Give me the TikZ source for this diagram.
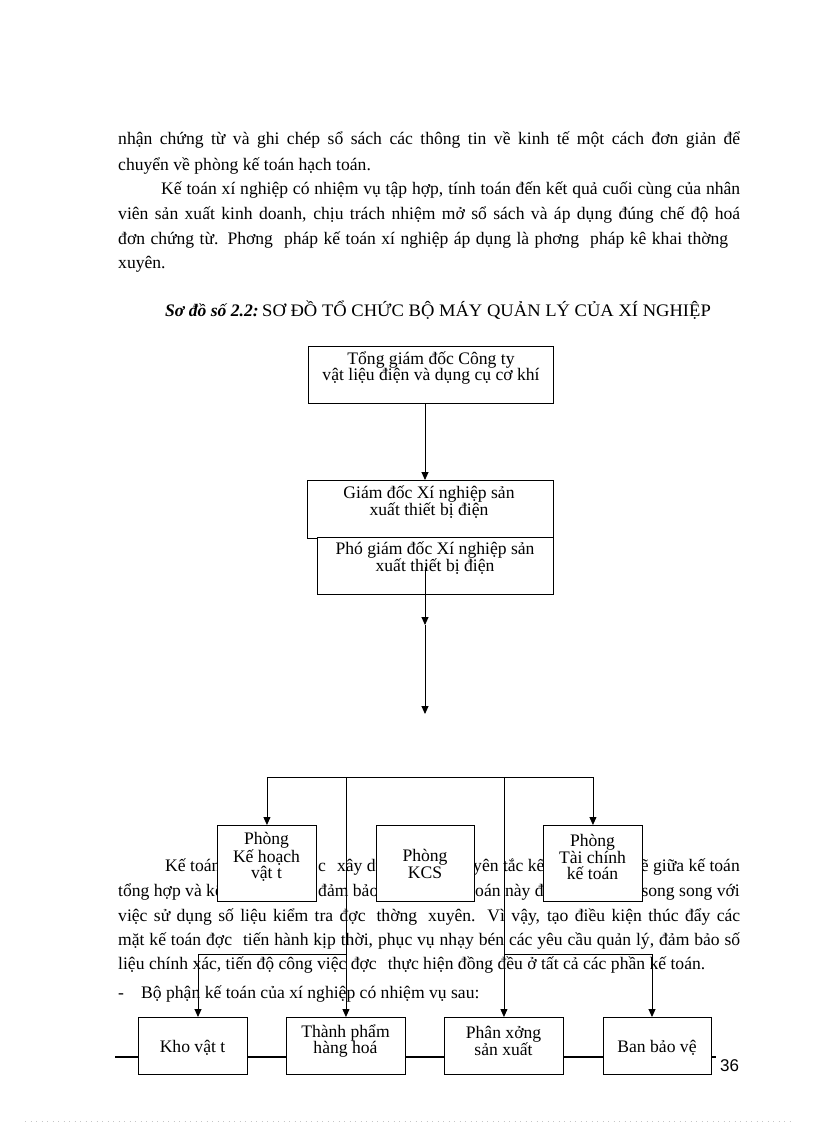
\documentclass[tikz,border=0pt]{standalone}
\usepackage{fontspec}
\setmainfont{Liberation Serif}
\newfontfamily\sansf{Liberation Sans}
\usetikzlibrary{arrows.meta}
\newcommand\bodyfont{\fontsize{17.6}{24}\selectfont}
\newcommand\boxfont{\fontsize{17.6}{16.2}\selectfont}
\newcommand\jl[2]{\hbox to #1pt{#2}}
\newcommand\gap{\hspace{11pt}}
\begin{document}
\begin{tikzpicture}[x=1pt,y=-1pt,
  txt/.style={anchor=base west, inner sep=0pt, font=\bodyfont},
  txte/.style={anchor=base east, inner sep=0pt, font=\bodyfont},
  bx/.style={draw, fill=white, line width=0.9pt, inner sep=0pt, anchor=north west},
  bt/.style={inner sep=0pt, align=center, font=\boxfont},
  conn/.style={line width=0.9pt},
  arr/.style={conn, -{Triangle[width=7pt,length=8pt]}},
]
\useasboundingbox[fill=white] (0,0) rectangle (816,1123);

% ---------- upper paragraph ----------
\node[txt] (p1) at (118,145) {\jl{622}{nhận chứng từ và ghi chép sổ sách các thông tin về kinh tế một cách đơn giản để}};
\node[txt] (p2) at (118,171) {chuyển về phòng kế toán hạch toán.};
\node[txt] (p3) at (161,195) {\jl{579}{Kế toán xí nghiệp có nhiệm vụ tập hợp, tính toán đến kết quả cuối cùng của nhân}};
\node[txt] (p4) at (118,220) {\jl{622}{viên sản xuất kinh doanh, chịu trách nhiệm mở sổ sách và áp dụng đúng chế độ hoá}};
\node[txt] (p5) at (118,244) {\jl{610}{đơn chứng từ. Phơng\gap pháp kế toán xí nghiệp áp dụng là phơng\gap pháp kê khai thờng}};
\node[txt] (p6) at (118,268) {xuyên.};

% ---------- title ----------
\node[txt] (t1) at (165,316) {\textbf{\textit{Sơ đồ số 2.2:}}};
\node[txt] (t2) at (262,316) {\scalebox{1.055}[1]{SƠ ĐỒ TỔ CHỨC BỘ MÁY QUẢN LÝ CỦA XÍ NGHIỆP}};

% ---------- lower paragraph (partly hidden by boxes) ----------
\node[txt] (qa1) at (165,871) {Kế toán};
\node[txt] (qa2) at (318,871) {c\gap xây dựng};
\node[txt] (qa3) at (473,871) {yên tắc kết};
\node[txte] (qa4) at (740,871) {chẽ giữa kế toán};
\node[txt] (qb1) at (118,896) {tổng hợp và kế toán};
\node[txt] (qb2) at (318,896) {đảm bảo};
\node[txt] (qb3) at (475,896) {oán này đợc};
\node[txte] (qb4) at (740,896) {song song với};
\node[txt] (qc) at (118,921) {\jl{622}{việc sử dụng số liệu kiểm tra đợc\gap thờng\gap xuyên. Vì vậy, tạo điều kiện thúc đẩy các}};
\node[txt] (qd) at (118,945) {\jl{622}{mặt kế toán đợc\gap tiến hành kịp thời, phục vụ nhạy bén các yêu cầu quản lý, đảm bảo số}};
\node[txt] (qe) at (118,969) {liệu chính xác, tiến độ công việc đợc\gap thực hiện đồng đều ở tất cả các phần kế toán.};
\node[txt] (qf0) at (118,998) {-};
\node[txt] (qf) at (141,998) {Bộ phận kế toán của xí nghiệp có nhiệm vụ sau:};

% ---------- footer ----------
\draw[line width=2.4pt] (115,1057) -- (716,1057);
\node[txt, font=\sansf\fontsize{17}{20}\selectfont] (pg) at (720,1071) {36};
\draw[gray!45, line width=0.6pt, dash pattern=on 1pt off 4.5pt] (25,1121) -- (792,1121);

% ---------- helper coordinates ----------
\coordinate (cx) at (425,0);
\coordinate (bar) at (0,777);
\coordinate (h1) at (198,954);
\coordinate (h2) at (652,954);
\coordinate (s3) at (425,567);
\coordinate (mid) at (425,625);
\coordinate (end) at (425,714);

% ---------- boxes ----------
\node[bx, minimum width=245, minimum height=57] (b1) at (308,346) {};
\node[bx, minimum width=246, minimum height=58] (b2) at (307,480) {};
\node[bx, minimum width=236, minimum height=57] (b3) at (317,537) {};

\node[bx, minimum width=99, minimum height=76] (kh) at (217,825) {};
\node[bx, minimum width=98, minimum height=76] (kcs) at (376,825) {};
\node[bx, minimum width=99, minimum height=76] (tc) at (543,825) {};

\node[bx, minimum width=109, minimum height=57] (kho) at (138,1017) {};
\node[bx, minimum width=119, minimum height=57] (tp) at (286,1017) {};
\node[bx, minimum width=119, minimum height=57] (px) at (444,1017) {};
\node[bx, minimum width=108, minimum height=57] (bbv) at (603,1017) {};

% ---------- box texts ----------
\node[bt] (b1t) at (431,368) {Tổng giám đốc Công ty\\vật liệu điện và dụng cụ cơ khí};
\node[bt] (b2t) at (429,502) {Giám đốc Xí nghiệp sản\\xuất thiết bị điện};
\node[bt] (b3t) at (435,558) {Phó giám đốc Xí nghiệp sản\\xuất thiết bị điện};
\node[bt] (kht) at (266.5,857) {Phòng\\Kế hoạch\\vật t};
\node[bt] (kcst) at (425,864) {Phòng\\KCS};
\node[bt] (tct) at (592.5,857) {Phòng\\Tài chính\\kế toán};
\node[bt] (khot) at (192.5,1048) {Kho vật t};
\node[bt] (tpt) at (345.5,1041) {Thành phẩm\\hàng hoá};
\node[bt] (pxt) at (503.5,1041) {Phân xởng\\sản xuất};
\node[bt] (bbvt) at (657,1048) {Ban bảo vệ};

% ---------- connectors ----------
\draw[arr] (b1.south -| cx) -- (b2.north -| cx);
\draw[arr] (s3) -- (mid);
\draw[arr] (mid) -- (end);

\draw[conn] (kh.north |- bar) -- (tc.north |- bar);
\draw[arr] (kh.north |- bar) -- (kh.north);
\draw[arr] (tc.north |- bar) -- (tc.north);
\draw[arr] (tp.north |- bar) -- (tp.north);
\draw[arr] (px.north |- bar) -- (px.north);

\draw[conn] (h1) -- (tp.north |- h1);
\draw[arr] (h1) -- (h1 |- kho.north);
\draw[conn] (px.north |- h2) -- (h2);
\draw[arr] (h2) -- (h2 |- bbv.north);
\end{tikzpicture}
\end{document}
